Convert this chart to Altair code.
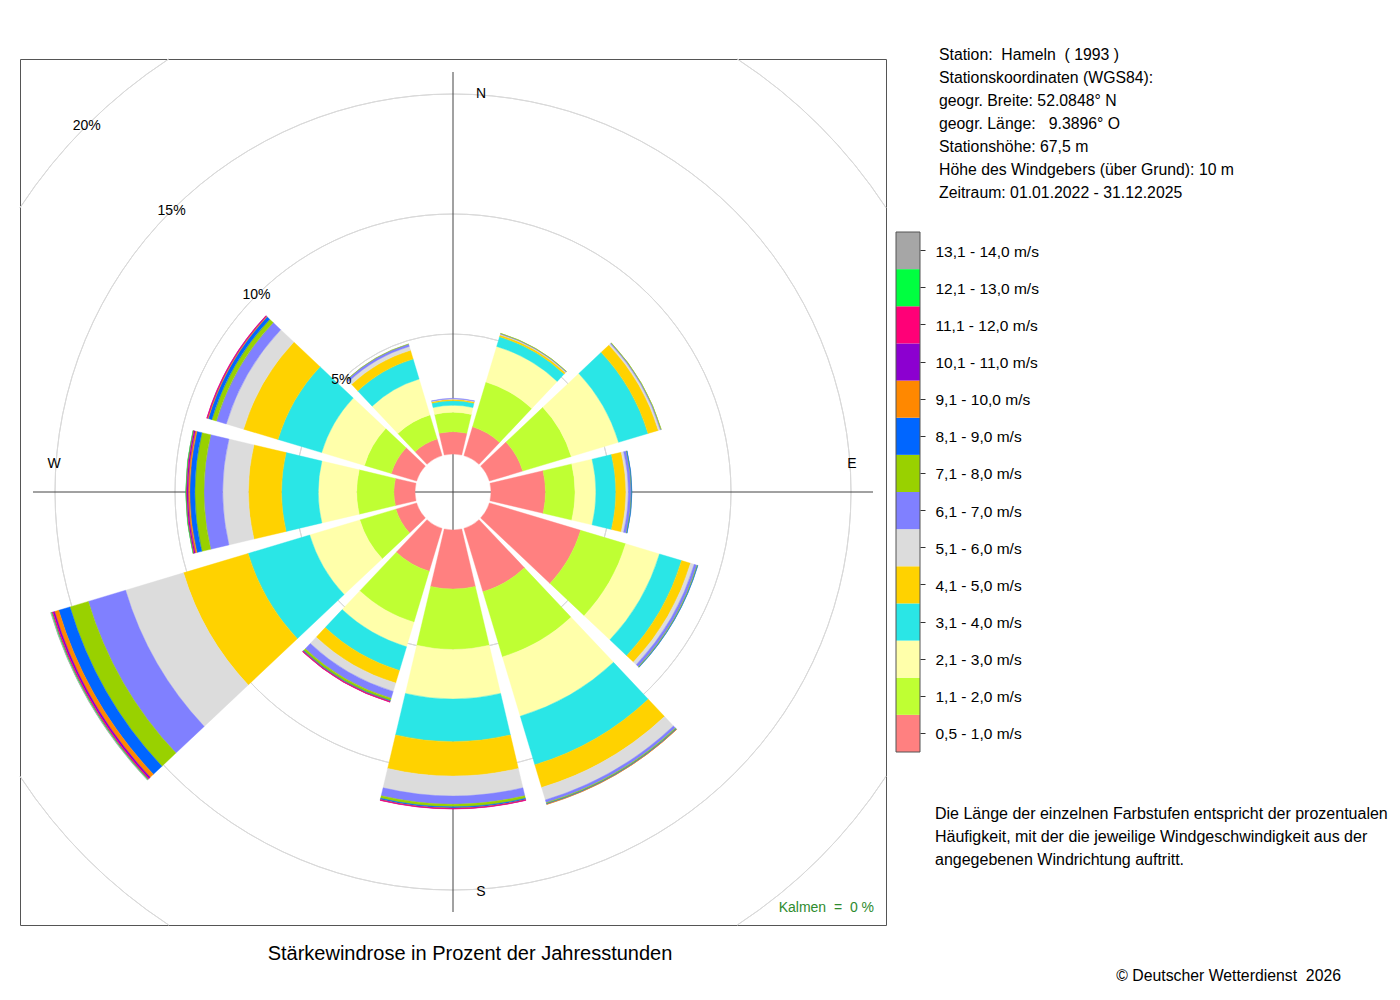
import math
import altair as alt
import pandas as pd

FONT = "Liberation Sans"

# ---------------- data ----------------
directions = [0, 30, 60, 90, 120, 150, 180, 210, 240, 270, 300, 330]
classes = [
    "0,5 - 1,0 m/s", "1,1 - 2,0 m/s", "2,1 - 3,0 m/s", "3,1 - 4,0 m/s",
    "4,1 - 5,0 m/s", "5,1 - 6,0 m/s", "6,1 - 7,0 m/s", "7,1 - 8,0 m/s",
    "8,1 - 9,0 m/s", "9,1 - 10,0 m/s", "10,1 - 11,0 m/s", "11,1 - 12,0 m/s",
    "12,1 - 13,0 m/s", "13,1 - 14,0 m/s",
]
colors = [
    "#FF8080", "#BFFF33", "#FFFFAA", "#2AE6E6", "#FFD200", "#DCDCDC", "#8080FF",
    "#99D100", "#0066FF", "#FF8800", "#8C00D0", "#FF0077", "#00FF40", "#A6A6A6",
]

# percent of hours per speed class, one value per direction (N, 30, 60 ... 330)
p_05_10 = [0.93, 1.25, 1.45, 2.27, 3.97, 2.76, 2.46, 1.86, 0.90, 0.88, 1.10, 0.72]
p_11_20 = [0.81, 1.95, 2.11, 1.23, 1.96, 2.83, 2.52, 2.22, 1.57, 1.55, 1.17, 1.05]
p_21_30 = [0.29, 1.55, 2.06, 0.87, 1.47, 2.58, 2.06, 1.07, 2.18, 1.60, 1.86, 1.56]
p_31_40 = [0.19, 0.42, 1.28, 0.83, 0.96, 2.11, 1.78, 1.03, 2.68, 1.53, 1.90, 0.87]
p_41_50 = [0.06, 0.08, 0.45, 0.42, 0.39, 0.99, 1.43, 0.55, 2.81, 1.38, 1.50, 0.38]
p_51_60 = [0.02, 0.03, 0.08, 0.10, 0.16, 0.54, 0.83, 0.36, 2.52, 1.07, 0.75, 0.17]
p_61_70 = [0.02, 0.03, 0.04, 0.12, 0.12, 0.12, 0.34, 0.30, 1.62, 0.78, 0.43, 0.10]
p_71_80 = [0.00, 0.01, 0.01, 0.02, 0.03, 0.04, 0.11, 0.10, 0.80, 0.38, 0.20, 0.01]
p_81_90 = [0.00, 0.00, 0.00, 0.01, 0.01, 0.03, 0.05, 0.03, 0.49, 0.21, 0.15, 0.00]
p_91_100 = [0.00, 0.00, 0.00, 0.00, 0.00, 0.01, 0.02, 0.02, 0.18, 0.07, 0.04, 0.00]
p_101_110 = [0.00, 0.00, 0.00, 0.00, 0.00, 0.00, 0.01, 0.01, 0.07, 0.05, 0.02, 0.00]
p_111_120 = [0.00, 0.00, 0.00, 0.00, 0.00, 0.00, 0.01, 0.01, 0.05, 0.04, 0.01, 0.00]
p_121_130 = [0.00, 0.00, 0.00, 0.00, 0.00, 0.00, 0.00, 0.00, 0.03, 0.01, 0.00, 0.00]
p_131_140 = [0.00, 0.00, 0.00, 0.00, 0.00, 0.00, 0.00, 0.00, 0.02, 0.00, 0.00, 0.00]

ring_pct = [5, 10, 15, 20]
ring_labels = ["5%", "10%", "15%", "20%"]

station_lines = [
    "Station:\u00a0\u00a0Hameln\u00a0\u00a0( 1993 )",
    "Stationskoordinaten (WGS84):",
    "geogr. Breite: 52.0848° N",
    "geogr. Länge:\u00a0\u00a0\u00a09.3896° O",
    "Stationshöhe: 67,5 m",
    "Höhe des Windgebers (über Grund): 10 m",
    "Zeitraum: 01.01.2022 - 31.12.2025",
]
note_lines = [
    "Die Länge der einzelnen Farbstufen entspricht der prozentualen",
    "Häufigkeit, mit der die jeweilige Windgeschwindigkeit aus der",
    "angegebenen Windrichtung auftritt.",
]
title_text = "Stärkewindrose in Prozent der Jahresstunden"
calm_text = "Kalmen\u00a0\u00a0=\u00a0\u00a00 %"
copyright_text = "© Deutscher Wetterdienst\u00a0\u00a02026"

# ---------------- build tables ----------------
series = [p_05_10, p_11_20, p_21_30, p_31_40, p_41_50, p_51_60, p_61_70,
          p_71_80, p_81_90, p_91_100, p_101_110, p_111_120, p_121_130, p_131_140]
HALF = 13.3
rows = []
for j, d in enumerate(directions):
    cum = 0.0
    for i, cls in enumerate(classes):
        v = series[i][j]
        if v <= 0:
            continue
        t0 = d - HALF if d > 0 else 360 - HALF
        rows.append({"dir": d, "cls": cls, "t0": t0, "t1": t0 + 2 * HALF,
                     "r0": cum, "r1": cum + v})
        cum += v
df = pd.DataFrame(rows)

W = H = 866
CX, CY = W / 2, H / 2
R0, PX_PER_PCT = 38, 24          # radius scale: 0 % -> 38 px, 20 % -> 518 px
R_MAX = R0 + PX_PER_PCT * 20

# grid rings: the part of each ring that lies inside the square frame
ring_rows = []
for pct in ring_pct:
    rpx = R0 + PX_PER_PCT * pct
    if rpx <= CX:
        ring_rows.append({"pct": pct, "a0": 0.0, "a1": 360.0})
    else:
        a = math.degrees(math.acos(CX / rpx))
        for q in (0, 90, 180, 270):
            ring_rows.append({"pct": pct, "a0": q + a, "a1": q + 90 - a})
ring_arc_df = pd.DataFrame(ring_rows)
ring_df = pd.DataFrame({"pct": ring_pct, "label": ring_labels})
leg_df = pd.DataFrame({"cls": classes})
one = pd.DataFrame({"a": [0]})

theta_scale = alt.Scale(domain=[0, 360], range=[0, 2 * math.pi])
r_scale = alt.Scale(type="linear", domain=[0, 20], range=[R0, R_MAX])
color_scale = alt.Scale(domain=classes, range=colors)

rings = alt.Chart(ring_arc_df).mark_arc(filled=False, color="#D9D9D9", strokeWidth=1).encode(
    theta=alt.Theta("a0:Q", scale=theta_scale, stack=None),
    theta2="a1:Q",
    radius=alt.Radius("pct:Q", scale=r_scale, stack=None),
    radius2="pct:Q",
)
vline = alt.Chart(one).mark_rule(color="#444444", strokeWidth=1).encode(
    x=alt.value(CX), y=alt.value(CY - 420), y2=alt.value(CY + 420))
hline = alt.Chart(one).mark_rule(color="#444444", strokeWidth=1).encode(
    y=alt.value(CY), x=alt.value(CX - 420), x2=alt.value(CX + 420))

sectors = alt.Chart(df).mark_arc(strokeWidth=0.4).encode(
    theta=alt.Theta("t0:Q", scale=theta_scale, stack=None),
    theta2="t1:Q",
    radius=alt.Radius("r1:Q", scale=r_scale, stack=None),
    radius2="r0:Q",
    color=alt.Color("cls:N", scale=color_scale, legend=None),
    stroke=alt.Stroke("cls:N", scale=color_scale, legend=None),
)

ring_text = alt.Chart(ring_df).mark_text(font=FONT, fontSize=14, color="black",
                                          align="center", baseline="middle").encode(
    theta=alt.value(7 * math.pi / 4),
    radius=alt.Radius("pct:Q", scale=r_scale),
    text="label:N",
)


def label(text, x, y, size=15, align="left", color="black"):
    return alt.Chart(one).mark_text(text=text, font=FONT, fontSize=size, align=align,
                                    baseline="middle", color=color).encode(
        x=alt.value(x), y=alt.value(y))


dir_labels = [
    label("N", CX + 28, CY - 398, 14, "center"),
    label("S", CX + 28, CY + 400, 14, "center"),
    label("W", CX - 399, CY - 28, 14, "center"),
    label("E", CX + 399, CY - 28, 14, "center"),
]

legend = alt.Chart(leg_df).mark_rect().encode(
    y=alt.Y("cls:N", scale=alt.Scale(domain=classes[::-1], range=[173, 693],
                                     paddingInner=0, paddingOuter=0),
            axis=alt.Axis(orient="right", offset=34, domain=False, ticks=True, tickSize=5,
                          tickColor="#333333", labelPadding=10, labelFontSize=15.5,
                          labelFont=FONT, labelColor="black", title=None, labelLimit=400,
                          labelOffset=1, grid=False)),
    x=alt.value(876), x2=alt.value(900),
    color=alt.Color("cls:N", scale=color_scale, legend=None),
)
legend_border = alt.Chart(one).mark_rect(filled=False, color="#555555", strokeWidth=1).encode(
    x=alt.value(876), x2=alt.value(900), y=alt.value(173), y2=alt.value(693))

texts = []
for k, line in enumerate(station_lines):
    texts.append(label(line, 919, -4 + 23 * k, 15.8))
for k, line in enumerate(note_lines):
    texts.append(label(line, 915, 755 + 23 * k, 16))
texts.append(label(title_text, 450, 895, 20, "center"))
texts.append(label(calm_text, 854, 849, 14, "right", "#2E8B2E"))
texts.append(label(copyright_text, 1321, 917, 15.8, "right"))

chart = alt.layer(
    rings, vline, hline, sectors, ring_text, *dir_labels, legend, legend_border, *texts
).properties(
    width=W, height=H,
    padding={"left": 12, "top": 51, "right": 506, "bottom": 67},
    autosize=alt.AutoSizeParams(type="none"),
    background="white",
).configure_view(stroke="#555555", strokeWidth=1)

chart.save("out.html", embed_options={"renderer": "svg", "actions": False})
